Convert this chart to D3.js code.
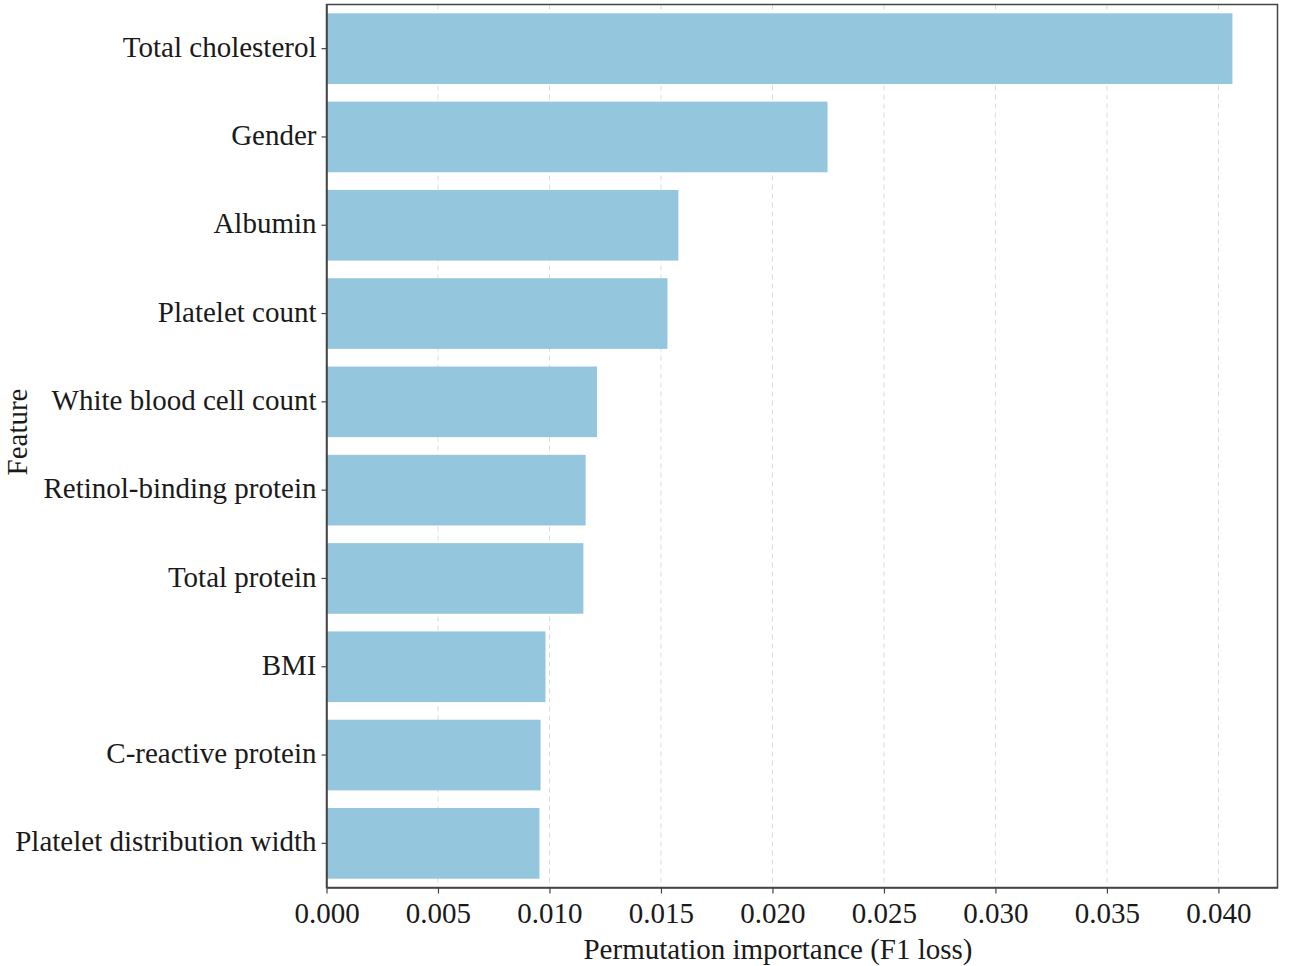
<!DOCTYPE html>
<html lang="en">
<head>
<meta charset="UTF-8">
<title>Permutation importance</title>
<script src="https://d3js.org/d3.v7.min.js"></script>
<style>
    body { margin: 0; background: #ffffff; }
    svg text { font-family: 'Liberation Serif', 'Times New Roman', serif; fill: #1a1a1a; }
</style>
</head>
<body>
<svg id="chart" width="1292" height="966"></svg>
<script>
// ------------------------------------------------------------------
// Data
// ------------------------------------------------------------------
const features = [
    "Total cholesterol", "Gender", "Albumin", "Platelet count",
    "White blood cell count", "Retinol-binding protein", "Total protein",
    "BMI", "C-reactive protein", "Platelet distribution width"
];
const importance = [
    0.04063, 0.02247, 0.01578, 0.01529, 0.01213,
    0.01162, 0.01152, 0.00982, 0.00960, 0.00955
];
const xTicks = [0, 0.005, 0.010, 0.015, 0.020, 0.025, 0.030, 0.035, 0.040];

// ------------------------------------------------------------------
// Layout
// ------------------------------------------------------------------
const plot = { left: 326.5, right: 1277.5, top: 4.5, bottom: 887.5 };
const FONT = 29;
const svg = d3.select("#chart");

const x = d3.scaleLinear().domain([0, 0.04265]).range([plot.left, plot.right]);
const y = d3.scaleBand().domain(features).range([plot.top, plot.bottom])
    .paddingInner(0.2).paddingOuter(0.1);

// dashed vertical grid
svg.append("g")
    .selectAll("line")
    .data(xTicks.filter(t => t > 0))
    .join("line")
    .attr("x1", d => x(d)).attr("x2", d => x(d))
    .attr("y1", plot.top).attr("y2", plot.bottom)
    .attr("stroke", "#dcdcdc")
    .attr("stroke-width", 1)
    .attr("stroke-dasharray", "5,4");

// bars
svg.append("g")
    .selectAll("rect")
    .data(features)
    .join("rect")
    .attr("x", x(0))
    .attr("y", d => y(d))
    .attr("width", (d, i) => x(importance[i]) - x(0))
    .attr("height", y.bandwidth())
    .attr("fill", "#94c6dd");

// frame (top / right)
svg.append("rect")
    .attr("x", plot.left).attr("y", plot.top)
    .attr("width", plot.right - plot.left).attr("height", plot.bottom - plot.top)
    .attr("fill", "none").attr("stroke", "#444").attr("stroke-width", 1.5);

// x axis
const xAxis = svg.append("g")
    .attr("transform", `translate(0,${plot.bottom})`)
    .call(d3.axisBottom(x).tickValues(xTicks).tickFormat(d3.format(".3f")).tickSize(6).tickSizeOuter(0));
xAxis.select(".domain").attr("stroke", "#444").attr("stroke-width", 1.5);
xAxis.selectAll(".tick line").attr("stroke", "#444").attr("stroke-width", 1.2);
xAxis.selectAll("text").attr("font-size", FONT).attr("dy", "0.92em").attr("fill", "#1a1a1a")
    .attr("font-family", "'Liberation Serif', serif");

// y axis
const yAxis = svg.append("g")
    .attr("transform", `translate(${plot.left},0)`)
    .call(d3.axisLeft(y).tickSize(5).tickSizeOuter(0).tickPadding(5));
yAxis.select(".domain").attr("stroke", "#444").attr("stroke-width", 1.5);
yAxis.selectAll(".tick line").attr("stroke", "#444").attr("stroke-width", 1.2);
yAxis.selectAll("text").attr("font-size", FONT).attr("dy", "0.28em").attr("fill", "#1a1a1a")
    .attr("font-family", "'Liberation Serif', serif");

// axis titles
svg.append("text")
    .attr("x", 778).attr("y", 959)
    .attr("text-anchor", "middle")
    .attr("font-size", FONT)
    .text("Permutation importance (F1 loss)");

svg.append("text")
    .attr("transform", "translate(27,432) rotate(-90)")
    .attr("text-anchor", "middle")
    .attr("font-size", FONT)
    .text("Feature");
</script>
</body>
</html>
